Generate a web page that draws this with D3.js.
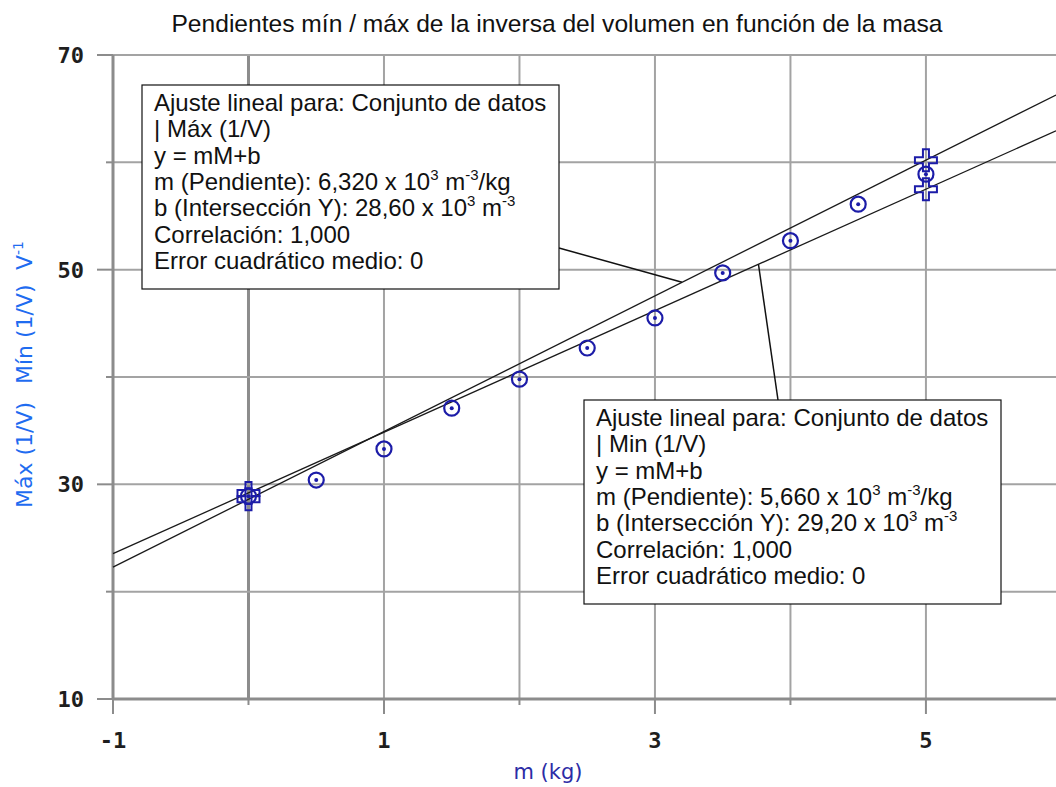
<!DOCTYPE html>
<html>
<head>
<meta charset="utf-8">
<script src="https://cdn.jsdelivr.net/npm/d3@7"></script>
<style>
  body { margin: 0; background: #fff; }
  svg { display: block; }
</style>
</head>
<body>
<div id="chart"></div>
<script>
// measured data (mass in kg, inverse volume)
var masses = [0, 0.5, 1, 1.5, 2, 2.5, 3, 3.5, 4, 4.5, 5];
var inverseVolume = [28.9, 30.4, 33.3, 37.1, 39.8, 42.7, 45.5, 49.7, 52.7, 56.1, 58.9];

// max / min bounding points
var maxMasses = [0, 5];
var maxValues = [28.6, 60.2];
var minMasses = [0, 5];
var minValues = [29.2, 57.5];

// linear fits y = m*M + b
var maxFit = { m: 6.32, b: 28.6 };
var minFit = { m: 5.66, b: 29.2 };

var xTicks = [-1, 0, 1, 2, 3, 4, 5];
var xLabels = [-1, 1, 3, 5];
var yTicks = [10, 20, 30, 40, 50, 60, 70];
var yLabels = [10, 30, 50, 70];

var title = 'Pendientes mín / máx de la inversa del volumen en función de la masa';

var maxBoxLines = [
    ['Ajuste lineal para: Conjunto de datos'],
    ['| Máx (1/V)'],
    ['y = mM+b'],
    ['m (Pendiente): 6,320 x 10', '^3', ' m', '^-3', '/kg'],
    ['b (Intersección Y): 28,60 x 10', '^3', ' m', '^-3'],
    ['Correlación: 1,000'],
    ['Error cuadrático medio: 0']
];
var minBoxLines = [
    ['Ajuste lineal para: Conjunto de datos'],
    ['| Min (1/V)'],
    ['y = mM+b'],
    ['m (Pendiente): 5,660 x 10', '^3', ' m', '^-3', '/kg'],
    ['b (Intersección Y): 29,20 x 10', '^3', ' m', '^-3'],
    ['Correlación: 1,000'],
    ['Error cuadrático medio: 0']
];

var width = 1056, height = 787;
var plotLeft = 113, plotTop = 55, plotBottom = 699;

var svg = d3.select('#chart').append('svg')
    .attr('width', width)
    .attr('height', height);

var x = d3.scaleLinear().domain([-1, 5.96]).range([plotLeft, width]);
var y = d3.scaleLinear().domain([10, 70]).range([plotBottom, plotTop]);

var gridColor = '#a3a3a3';
var axisColor = '#8c8c8c';
var blue = '#1c1ca8';

// grid
svg.append('g').selectAll('line')
    .data(xTicks.filter(d => d !== -1))
    .enter().append('line')
    .attr('x1', d => x(d)).attr('x2', d => x(d))
    .attr('y1', plotTop).attr('y2', plotBottom)
    .style('stroke', d => d === 0 ? axisColor : gridColor)
    .style('stroke-width', d => d === 0 ? 3 : 2);

svg.append('g').selectAll('line')
    .data(yTicks.filter(d => d !== 10))
    .enter().append('line')
    .attr('x1', plotLeft).attr('x2', width)
    .attr('y1', d => y(d)).attr('y2', d => y(d))
    .style('stroke', gridColor)
    .style('stroke-width', 2);

// axis lines
svg.append('line')
    .attr('x1', plotLeft).attr('x2', plotLeft)
    .attr('y1', plotTop).attr('y2', plotBottom)
    .style('stroke', axisColor).style('stroke-width', 3);
svg.append('line')
    .attr('x1', plotLeft).attr('x2', width)
    .attr('y1', plotBottom).attr('y2', plotBottom)
    .style('stroke', axisColor).style('stroke-width', 3);

// ticks
svg.append('g').selectAll('line')
    .data(yTicks)
    .enter().append('line')
    .attr('x1', d => yLabels.includes(d) ? plotLeft - 16 : plotLeft - 7)
    .attr('x2', plotLeft)
    .attr('y1', d => y(d)).attr('y2', d => y(d))
    .style('stroke', axisColor).style('stroke-width', 2);

svg.append('g').selectAll('line')
    .data(xTicks)
    .enter().append('line')
    .attr('x1', d => x(d)).attr('x2', d => x(d))
    .attr('y1', plotBottom)
    .attr('y2', d => xLabels.includes(d) ? plotBottom + 15 : plotBottom + 6)
    .style('stroke', axisColor).style('stroke-width', 2);

// tick labels
svg.append('g').selectAll('text')
    .data(yLabels)
    .enter().append('text')
    .attr('x', 84)
    .attr('y', d => y(d))
    .attr('dy', '0.36em')
    .attr('text-anchor', 'end')
    .style('font-family', '"DejaVu Sans Mono", monospace')
    .style('font-weight', 'bold')
    .style('font-size', '22px')
    .style('fill', '#1e1e1e')
    .text(d => d);

svg.append('g').selectAll('text')
    .data(xLabels)
    .enter().append('text')
    .attr('x', d => x(d))
    .attr('y', 748)
    .attr('text-anchor', 'middle')
    .style('font-family', '"DejaVu Sans Mono", monospace')
    .style('font-weight', 'bold')
    .style('font-size', '22px')
    .style('fill', '#1e1e1e')
    .text(d => d);

// axis titles
svg.append('text')
    .attr('x', 548).attr('y', 779)
    .attr('text-anchor', 'middle')
    .style('font-family', '"DejaVu Sans", sans-serif')
    .style('font-size', '21px')
    .style('fill', '#2c2ca6')
    .text('m (kg)');

var yTitle = svg.append('g')
    .style('font-family', '"DejaVu Sans", sans-serif')
    .style('font-size', '22px')
    .style('fill', '#1f6cf0');
yTitle.append('text')
    .attr('transform', 'translate(32,508) rotate(-90)')
    .text('Máx (1/V)');
yTitle.append('text')
    .attr('transform', 'translate(32,384) rotate(-90)')
    .text('Mín (1/V)');
var vt = yTitle.append('text')
    .attr('transform', 'translate(32,270) rotate(-90)');
vt.append('tspan').text('V');
vt.append('tspan').attr('dy', -9).style('font-size', '14px').text('-1');

// title
svg.append('text')
    .attr('x', 557).attr('y', 32)
    .attr('text-anchor', 'middle')
    .style('font-family', '"Liberation Sans", Arial, sans-serif')
    .style('font-size', '24.6px')
    .style('fill', '#111')
    .text(title);

// fit lines
var fitLine = d3.line()
    .x(d => x(d[0]))
    .y(d => y(d[1]));

[maxFit, minFit].forEach(function(f) {
    var dom = x.domain();
    svg.append('path')
        .datum(dom.map(m => [m, f.m * m + f.b]))
        .attr('d', fitLine)
        .style('fill', 'none')
        .style('stroke', '#1a1a1a')
        .style('stroke-width', 1.3);
});

// circle markers
var pts = svg.append('g');
masses.forEach(function(m, i) {
    pts.append('circle')
        .attr('cx', x(m)).attr('cy', y(inverseVolume[i]))
        .attr('r', 7.5)
        .style('fill', 'none')
        .style('stroke', blue)
        .style('stroke-width', 2.2);
    pts.append('circle')
        .attr('cx', x(m)).attr('cy', y(inverseVolume[i]))
        .attr('r', 2)
        .style('fill', blue);
});

// hollow plus markers
function plusPath(cx, cy) {
    var a = 11, t = 3;
    return 'M' + (cx - t) + ',' + (cy - a) +
        'H' + (cx + t) + 'V' + (cy - t) + 'H' + (cx + a) + 'V' + (cy + t) +
        'H' + (cx + t) + 'V' + (cy + a) + 'H' + (cx - t) + 'V' + (cy + t) +
        'H' + (cx - a) + 'V' + (cy - t) + 'H' + (cx - t) + 'Z';
}
var plusData = maxMasses.map((m, i) => [m, maxValues[i]])
    .concat(minMasses.map((m, i) => [m, minValues[i]]));
svg.append('g').selectAll('path')
    .data(plusData)
    .enter().append('path')
    .attr('d', d => plusPath(x(d[0]), y(d[1])))
    .style('fill', 'none')
    .style('stroke', blue)
    .style('stroke-width', 2);

// annotation boxes
function drawBox(bx, by, bw, bh, lines) {
    var g = svg.append('g');
    g.append('rect')
        .attr('x', bx).attr('y', by)
        .attr('width', bw).attr('height', bh)
        .style('fill', '#fff')
        .style('stroke', '#111')
        .style('stroke-width', 1.2);
    lines.forEach(function(parts, i) {
        var t = g.append('text')
            .attr('x', bx + 12)
            .attr('y', by + 26 + i * 26.3)
            .style('font-family', '"Liberation Sans", Arial, sans-serif')
            .style('font-size', '24px')
            .style('fill', '#111');
        var raised = false;
        parts.forEach(function(p) {
            if (p[0] === '^') {
                t.append('tspan').attr('dy', raised ? 0 : -10)
                    .style('font-size', '15px').text(p.slice(1));
                raised = true;
            } else {
                t.append('tspan').attr('dy', raised ? 10 : 0).text(p);
                raised = false;
            }
        });
    });
}

// leader lines
var maxAt = 3.2, minAt = 3.764;
svg.append('line')
    .attr('x1', 559).attr('y1', 248)
    .attr('x2', x(maxAt)).attr('y2', y(maxFit.m * maxAt + maxFit.b))
    .style('stroke', '#111').style('stroke-width', 1.5);
svg.append('line')
    .attr('x1', 778).attr('y1', 400)
    .attr('x2', x(minAt)).attr('y2', y(minFit.m * minAt + minFit.b))
    .style('stroke', '#111').style('stroke-width', 1.5);

drawBox(142, 85, 417, 204, maxBoxLines);
drawBox(584, 400, 417, 204, minBoxLines);
</script>
</body>
</html>
